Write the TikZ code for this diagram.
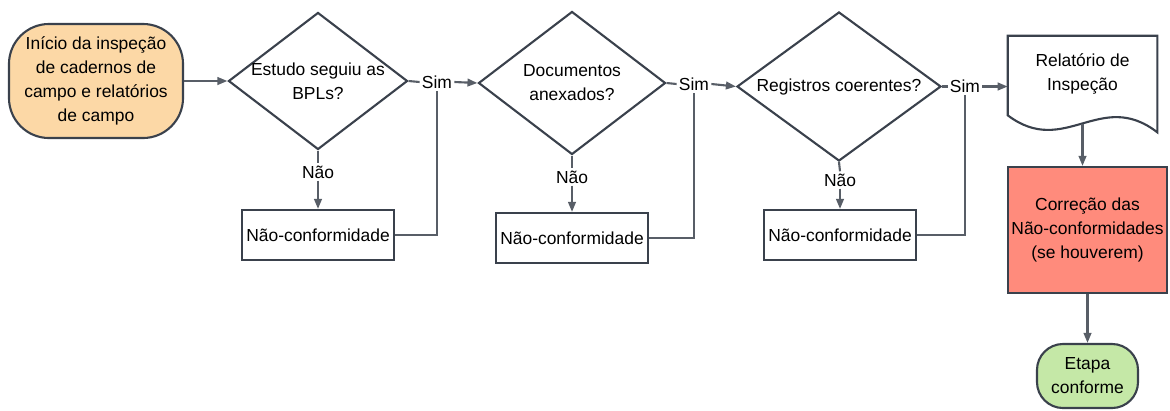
\documentclass[tikz,border=0pt]{standalone}
\usepackage{fontspec}
\setmainfont{Liberation Sans}
\usepackage{xcolor}
\usepackage{tikz}
\usetikzlibrary{arrows.meta,positioning,calc,shapes.geometric}

\definecolor{linegray}{RGB}{58,65,76}
\definecolor{startfill}{RGB}{252,216,166}
\definecolor{corrfill}{RGB}{255,139,124}
\definecolor{okfill}{RGB}{197,232,167}

\tikzset{
  base/.style={draw=linegray,line width=1.5pt,font=\fontsize{12.4}{17}\selectfont,align=center,inner sep=1pt},
  decision/.style={base,diamond,inner sep=0pt},
  ncbox/.style={base,rectangle,fill=white,minimum width=3.8cm,minimum height=1.25cm},
  lbl/.style={font=\fontsize{12.4}{17}\selectfont,align=center,inner sep=1.5pt},
  conn/.style={draw=linegray!85,line width=1.5pt},
  arr/.style={conn,-{Triangle[length=0.25cm,width=0.19cm]}},
}

\begin{document}
\begin{tikzpicture}[x=0.025cm,y=-0.025cm]
 \useasboundingbox (0,0) rectangle (1170,410);
 % --- start ---
 \node[base,rounded corners=1cm,fill=startfill,minimum width=4.35cm,minimum height=2.85cm] (start) at (96,81) {Início da inspeção\\de cadernos de\\campo e relatórios\\de campo};
 % --- decisions ---
 \node[decision,minimum width=4.475cm,minimum height=3.425cm,label={[lbl]center:{Estudo seguiu as\\BPLs?}}] (d1) at (318,81) {};
 \node[decision,minimum width=4.675cm,minimum height=3.575cm,label={[lbl]center:{Documentos\\anexados?}}] (d2) at (572,83) {};
 \node[decision,minimum width=5.1cm,minimum height=3.725cm,label={[lbl]center:{Registros coerentes?}}] (d3) at (839,86.5) {};
 % --- yes / no labels ---
 \node[lbl] (s1) at (437,82) {Sim};
 \node[lbl] (s2) at (694,84) {Sim};
 \node[lbl] (s3) at (965,86.5) {Sim};
 \node[lbl] (n1) at (318,172) {Não};
 \node[lbl] (n2) at (572,177) {Não};
 \node[lbl] (n3) at (840,180) {Não};
 % --- non-conformity boxes ---
 \node[ncbox] (nc1) at (318,235) {Não-conformidade};
 \node[ncbox] (nc2) at (572,238) {Não-conformidade};
 \node[ncbox] (nc3) at (840,235) {Não-conformidade};
 % --- report (document shape) ---
 \node[minimum width=3.725cm,minimum height=2.4cm,inner sep=0pt] (rep) at (1082.5,84) {};
 \draw[base,fill=white] (rep.north west) -- (rep.north east) -- (rep.south east)
   .. controls ($(rep.south east)+(-57,-44)$) and ($(rep.south west)+(57,26)$) .. ($(rep.south west)+(0,-17)$) -- cycle;
 \node[lbl] (rep-t) at (1082.5,74) {Relatório de\\Inspeção};
 \coordinate (rep-b) at ($(rep.south)+(0,-8)$);
 % --- correction and end ---
 \node[base,fill=corrfill,minimum width=3.975cm,minimum height=3.15cm] (corr) at (1087.5,230) {Correção das\\Não-conformidades\\(se houverem)};
 \node[base,rounded corners=0.65cm,fill=okfill,minimum width=2.525cm,minimum height=1.6cm] (ok) at (1087.5,376) {Etapa\\conforme};
 % --- connectors ---
 \draw[arr] (start.east) -- (start.east -| d1.west);
 \draw[conn] (d1.east) -- (s1.west);
 \draw[arr] (s1.east) -- (d2.west);
 \draw[conn] (d2.east) -- (s2.west);
 \draw[arr] (s2.east) -- (d3.west);
 \draw[conn] (d3.east) -- (s3.west);
 \draw[arr] (s3.east) -- (s3.east -| rep.west);
 \foreach \i in {1,2,3} {
   \draw[conn] (d\i.south) -- (n\i.north);
   \draw[arr] (n\i.south) -- (nc\i.north);
   \draw[conn] (nc\i.east) -| (s\i.south);
 }
 \draw[arr] (rep-b) -- (rep-b |- corr.north);
 \draw[arr] (corr.south) -- (ok.north);
\end{tikzpicture}
\end{document}
